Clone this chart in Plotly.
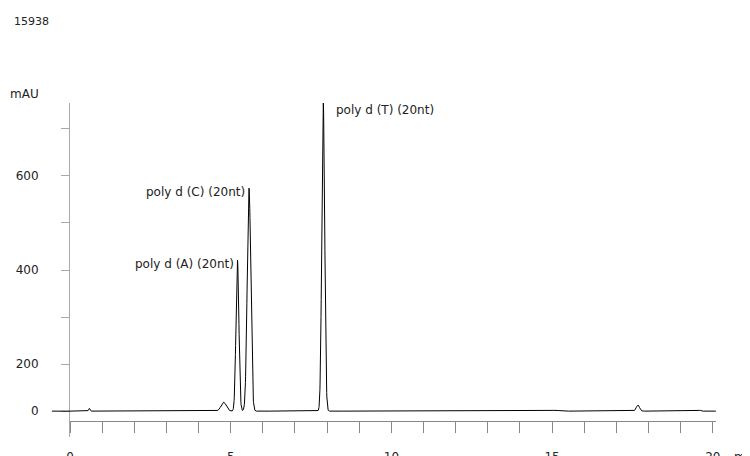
import numpy as np
import plotly.graph_objects as go

# peaks: retention time (min), height (plot units), width (min)
peak_rt = [0.6, 4.78, 5.21, 5.57, 7.88, 15.1, 17.67, 19.6]
peak_height = [6, 19, 321, 474, 655, 2, 13, 2]
peak_width = [0.02, 0.08, 0.045, 0.055, 0.045, 0.1, 0.05, 0.03]
y_tickvals = [0, 100, 200, 300, 400, 500, 600]
y_ticktext = ['0', '200', '', '400', '', '600', '']
labels = ['poly d (A) (20nt)', 'poly d (C) (20nt)', 'poly d (T) (20nt)']

t = np.linspace(0, 20.1, 4000)
signal = np.zeros_like(t)
for rt, h, w in zip(peak_rt, peak_height, peak_width):
    signal += h * np.exp(-0.5 * ((t - rt) / w) ** 2)

fig = go.Figure(go.Scatter(x=t, y=signal, mode='lines',
                           line=dict(color='black', width=1), hoverinfo='skip'))

font = dict(family='DejaVu Sans', size=12, color='#222')
fig.update_layout(
    width=750, height=456, plot_bgcolor='white', paper_bgcolor='white',
    margin=dict(l=62, r=42, t=95, b=27), showlegend=False, font=font,
    xaxis=dict(range=[0, 20.1], anchor='free', position=0.048, showline=True,
               linecolor='#888', ticks='outside', ticklen=11, tickcolor='#888',
               tickvals=[0, 5, 10, 15, 20], ticklabelstandoff=14, automargin=False,
               minor=dict(dtick=1, ticks='outside', ticklen=11, tickcolor='#888'),
               showgrid=False, zeroline=False),
    yaxis=dict(range=[-55, 655], showline=True, linecolor='#aaa', ticks='outside',
               ticklen=8, tickcolor='#aaa', tickvals=y_tickvals, ticktext=y_ticktext,
               ticklabelstandoff=20, automargin=False, showgrid=False, zeroline=False),
)
# longer zero tick
fig.add_shape(type='line', xref='paper', yref='y', x0=-0.028, x1=0, y0=0, y1=0,
              line=dict(color='black', width=1))

fig.add_annotation(x=5.15, y=313, text=labels[0], showarrow=False, xanchor='right', font=font)
fig.add_annotation(x=5.5, y=466, text=labels[1], showarrow=False, xanchor='right', font=font)
fig.add_annotation(x=8.2, y=640, text=labels[2], showarrow=False, xanchor='left', font=font)

fig.add_annotation(xref='paper', yref='paper', x=-0.096, y=1.0, text='mAU',
                   showarrow=False, xanchor='left', yanchor='bottom', font=font)
fig.add_annotation(xref='paper', yref='paper', x=1.025, y=-0.06, text='min',
                   showarrow=False, xanchor='left', yanchor='middle', font=font)
fig.add_annotation(xref='paper', yref='paper', x=-0.09, y=1.245, text='15938',
                   showarrow=False, xanchor='left', yanchor='middle',
                   font=dict(family='DejaVu Sans', size=11, color='#222'))

fig.write_html("out.html")
